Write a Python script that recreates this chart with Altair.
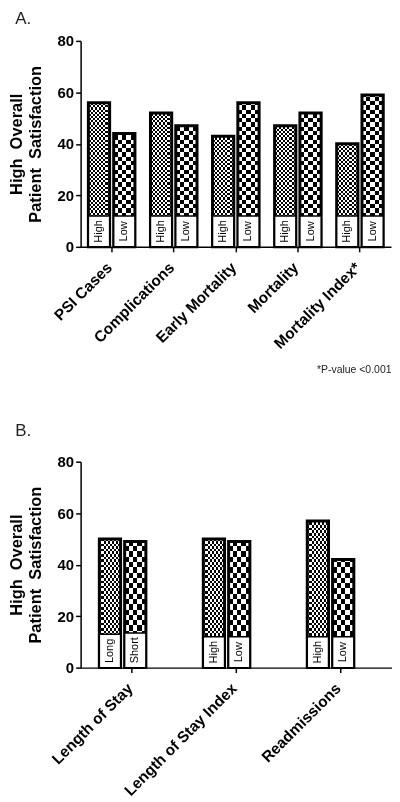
import altair as alt
import pandas as pd

FONT = "Liberation Sans, Arial, sans-serif"

# ---------------- data ----------------
cats_a = ["PSI Cases", "Complications", "Early Mortality", "Mortality", "Mortality Index*"]
first_a = [56, 52, 43, 47, 40]
second_a = [44, 47, 56, 52, 59]
first_lab_a = ["High", "High", "High", "High", "High"]
second_lab_a = ["Low", "Low", "Low", "Low", "Low"]
first_box_a = [12, 12, 12, 12, 12]
second_box_a = [12, 12, 12, 12, 12]

cats_b = ["Length of Stay", "Length of Stay Index", "Readmissions"]
first_b = [50, 50, 57]
second_b = [49, 49, 42]
first_lab_b = ["Long", "High", "High"]
second_lab_b = ["Short", "Low", "Low"]
first_box_b = [13, 12, 12]
second_box_b = [13.5, 12, 12]

y_ticks = [0, 20, 40, 60, 80]
y_title = ["High\u00a0 Overall", "Patient\u00a0 Satisfaction"]
footnote = "*P-value <0.001"


def frame(cats, f, s, fl, sl, fb, sb):
    rows = []
    for i, c in enumerate(cats):
        rows.append(dict(cat=c, grp="1", value=f[i], label=fl[i], box=fb[i]))
        rows.append(dict(cat=c, grp="2", value=s[i], label=sl[i], box=sb[i]))
    df = pd.DataFrame(rows)
    df["zero"] = 0
    df["full"] = 80
    df["mid"] = df["box"] / 2
    return df


def stripes(n, along):
    stops = []
    for i in range(n):
        col = "black" if i % 2 == 0 else "white"
        stops.append({"offset": i / n, "color": col})
        stops.append({"offset": (i + 1) / n, "color": col})
    g = {"gradient": "linear", "stops": stops, "x1": 0, "y1": 0}
    if along == "x":
        g.update({"x2": 1, "y2": 0})
    else:
        g.update({"x2": 0, "y2": 1})
    return g


def panel(df, cats, W, H, pi, po, spi, nfx, ncx, nfy, ncy, title, toff, xtitle):
    yscale = alt.Scale(domain=[0, 80], nice=False)
    yaxis = alt.Axis(values=y_ticks, title=y_title, titleFontSize=16.5,
                     titleFontWeight="bold", titleLineHeight=19, titlePadding=14,
                     labelPadding=2)
    xaxis_kw = dict(labelAngle=-45, labelPadding=8, labelLimit=250, labelOffset=-7,
                    labelFontSize=15.5)
    if xtitle:
        xaxis = alt.Axis(title=xtitle, titleFontSize=10.5, titleFontWeight="normal",
                         titleColor="#222", titleAnchor="end", titlePadding=13, **xaxis_kw)
    else:
        xaxis = alt.Axis(title=None, **xaxis_kw)
    x = alt.X("cat:N", sort=cats, scale=alt.Scale(paddingInner=pi, paddingOuter=po), axis=xaxis)
    xo = alt.XOffset("grp:N", scale=alt.Scale(paddingInner=spi, paddingOuter=0))
    base = alt.Chart(df).encode(x=x, xOffset=xo)

    def Y(f):
        return alt.Y(f + ":Q", scale=yscale, axis=yaxis)

    g1 = alt.datum.grp == "1"
    g2 = alt.datum.grp == "2"
    layers = [
        base.transform_filter(g1).mark_bar(fill=stripes(nfy, "y"), strokeWidth=0)
            .encode(y=Y("zero"), y2="full:Q"),
        base.transform_filter(g2).mark_bar(fill=stripes(ncy, "y"), strokeWidth=0)
            .encode(y=Y("zero"), y2="full:Q"),
        base.mark_bar(fill="white", stroke="white", strokeWidth=2).encode(y=Y("value"), y2="full:Q"),
        base.transform_filter(g1).mark_bar(fill=stripes(nfx, "x"), strokeWidth=0, blend="difference")
            .encode(y=Y("zero"), y2="value:Q"),
        base.transform_filter(g2).mark_bar(fill=stripes(ncx, "x"), strokeWidth=0, blend="difference")
            .encode(y=Y("zero"), y2="value:Q"),
        base.mark_bar(fill="white", fillOpacity=0, stroke="black", strokeWidth=3)
            .encode(y=Y("zero"), y2="value:Q"),
        base.mark_bar(fill="white", stroke="black", strokeWidth=1.5)
            .encode(y=Y("zero"), y2="box:Q"),
        base.mark_text(angle=270, fontSize=11, color="black", font=FONT)
            .encode(y=Y("mid"), text="label:N"),
    ]
    return alt.layer(*layers).properties(
        width=W, height=H,
        title=alt.TitleParams(text=title, anchor="start", frame="bounds", fontSize=17,
                              fontWeight="normal", color="#222", font=FONT, offset=toff, dx=7),
    )


top = panel(frame(cats_a, first_a, second_a, first_lab_a, second_lab_a, first_box_a, second_box_a),
            cats_a, 312, 207, 0.25, 0.125, 0.16, 10, 5, 96, 48, "A.", 6, footnote)
bottom = panel(frame(cats_b, first_b, second_b, first_lab_b, second_lab_b, first_box_b, second_box_b),
               cats_b, 313, 207, 0.365, 0.18, 0.33, 10, 5, 78, 39, "B.", 15, None)

chart = alt.vconcat(top, bottom, spacing=46).properties(
    padding=0, background="white"
).configure_view(stroke=None).configure_axis(
    domainColor="black", domainWidth=1.5, tickColor="black", tickWidth=1.5, tickSize=5,
    labelFont=FONT, labelFontSize=15, labelFontWeight="bold", labelColor="black",
    titleFont=FONT, titleColor="black", grid=False,
)

chart.save("out.html", embed_options={"renderer": "svg", "actions": False})
